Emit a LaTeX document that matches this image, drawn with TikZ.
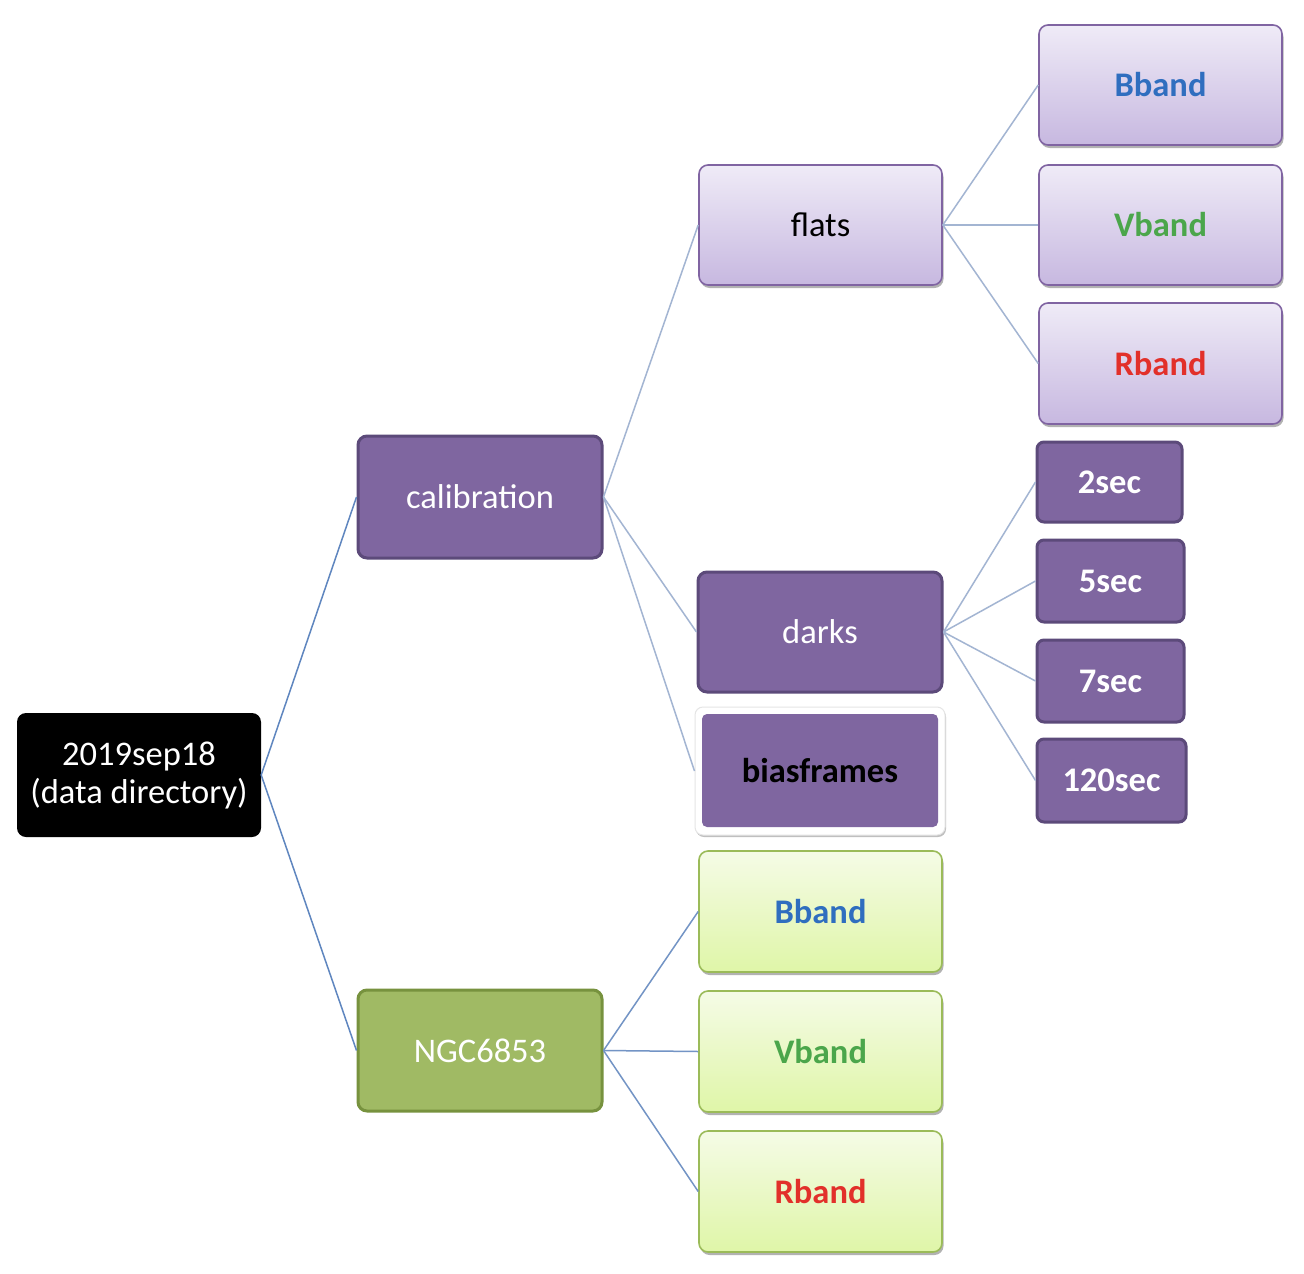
\documentclass[tikz,border=0pt]{standalone}
\usepackage{fontspec}
\setmainfont{Carlito}
\usetikzlibrary{shadows}
\definecolor{calfill}{HTML}{7F66A0}
\definecolor{calline}{HTML}{5C4A7A}
\definecolor{ngcfill}{HTML}{A0BA64}
\definecolor{ngcline}{HTML}{77923E}
\definecolor{lpTop}{HTML}{EFEBF7}
\definecolor{lpBot}{HTML}{C7B8E0}
\definecolor{lpLine}{HTML}{8064A2}
\definecolor{lgTop}{HTML}{F5FBE6}
\definecolor{lgBot}{HTML}{DFF6A8}
\definecolor{lgLine}{HTML}{9BBB59}
\definecolor{rootedge}{HTML}{5F86BF}
\definecolor{subedge}{HTML}{A3B5D2}
\definecolor{bandB}{HTML}{2F6EBF}
\definecolor{bandV}{HTML}{4BA64B}
\definecolor{bandR}{HTML}{E2302A}
\tikzset{
  x=1pt,y=-1pt,
  basebox/.style={rectangle,rounded corners=9pt,inner sep=0pt,align=center,
    font=\fontsize{34.5}{38}\selectfont},
  rootbox/.style={basebox,fill=black,text=white,minimum width=244pt,minimum height=124pt},
  darkbox/.style={basebox,fill=calfill,draw=calline,line width=3pt,text=white,
    minimum width=244pt,minimum height=122pt},
  greenbox/.style={basebox,fill=ngcfill,draw=ngcline,line width=3pt,text=white,
    minimum width=244pt,minimum height=121pt},
  lightpurple/.style={basebox,top color=lpTop,bottom color=lpBot,draw=lpLine,line width=1.6pt,
    minimum width=243pt,minimum height=120pt,
    drop shadow={shadow xshift=1.5pt,shadow yshift=-3pt,opacity=0.3,fill=black}},
  lightgreen/.style={basebox,top color=lgTop,bottom color=lgBot,draw=lgLine,line width=1.6pt,
    minimum width=243pt,minimum height=121pt,
    drop shadow={shadow xshift=1.5pt,shadow yshift=-3pt,opacity=0.3,fill=black}},
  secbox/.style={basebox,fill=calfill,draw=calline,line width=3pt,text=white,
    rounded corners=7pt,minimum height=81pt,font=\fontsize{34.5}{38}\selectfont\bfseries},
  rootedgestyle/.style={draw=rootedge,line width=1.5pt},
  edge/.style={draw=subedge,line width=1.5pt},
}
\begin{document}
\begin{tikzpicture}
\useasboundingbox (0,0) rectangle (1304,1274);
\fill[white] (0,0) rectangle (1304,1274);

% root
\node[rootbox] (root) at (139,775) {2019sep18\\(data directory)};

% level 1
\node[darkbox] (cal) at (480,497) {calibration};
\node[greenbox] (ngc) at (480,1050.5) {NGC6853};

% level 2 calibration
\node[lightpurple] (flats) at (820.5,225) {flats};
\node[darkbox,minimum width=244pt,minimum height=120pt] (darks) at (820,632) {darks};
\node[basebox,fill=white,draw=black!10,line width=1pt,minimum width=250pt,minimum height=128pt,rounded corners=8pt,
  drop shadow={shadow xshift=1pt,shadow yshift=-2pt,opacity=0.25,fill=black}] (biasouter) at (820,771) {};
\node[basebox,fill=calfill,rounded corners=5pt,minimum width=236pt,minimum height=113pt,
  font=\fontsize{34.5}{38}\selectfont\bfseries] (bias) at (820,770.5) {biasframes};

% flats children
\node[lightpurple] (fB) at (1160.5,85) {\textcolor{bandB}{\bfseries Bband}};
\node[lightpurple] (fV) at (1160.5,225) {\textcolor{bandV}{\bfseries Vband}};
\node[lightpurple,minimum height=121pt] (fR) at (1160.5,363.5) {\textcolor{bandR}{\bfseries Rband}};

% darks children
\node[secbox,minimum width=145pt,minimum height=80pt] (s2) at (1109.5,482) {2sec};
\node[secbox,minimum width=147pt,minimum height=82pt] (s5) at (1110.5,581) {5sec};
\node[secbox,minimum width=147pt,minimum height=82pt] (s7) at (1110.5,681) {7sec};
\node[secbox,minimum width=149pt,minimum height=83pt] (s120) at (1111.5,780.5) {120sec};

% NGC children
\node[lightgreen] (nB) at (820.5,911.5) {\textcolor{bandB}{\bfseries Bband}};
\node[lightgreen] (nV) at (820.5,1051.5) {\textcolor{bandV}{\bfseries Vband}};
\node[lightgreen] (nR) at (820.5,1191.5) {\textcolor{bandR}{\bfseries Rband}};

% connectors
\draw[rootedgestyle] (root.east) -- (cal.west);
\draw[rootedgestyle] (root.east) -- (ngc.west);
\draw[edge] (cal.east) -- (flats.west);
\draw[edge] (cal.east) -- (darks.west);
\draw[edge] (cal.east) -- (biasouter.west);
\draw[edge] (flats.east) -- (fB.west);
\draw[edge] (flats.east) -- (fV.west);
\draw[edge] (flats.east) -- (fR.west);
\draw[edge] (darks.east) -- (s2.west);
\draw[edge] (darks.east) -- (s5.west);
\draw[edge] (darks.east) -- (s7.west);
\draw[edge] (darks.east) -- (s120.west);
\draw[edge,draw=rootedge!70!subedge] (ngc.east) -- (nB.west);
\draw[edge,draw=rootedge!70!subedge] (ngc.east) -- (nV.west);
\draw[edge,draw=rootedge!70!subedge] (ngc.east) -- (nR.west);
\end{tikzpicture}
\end{document}
